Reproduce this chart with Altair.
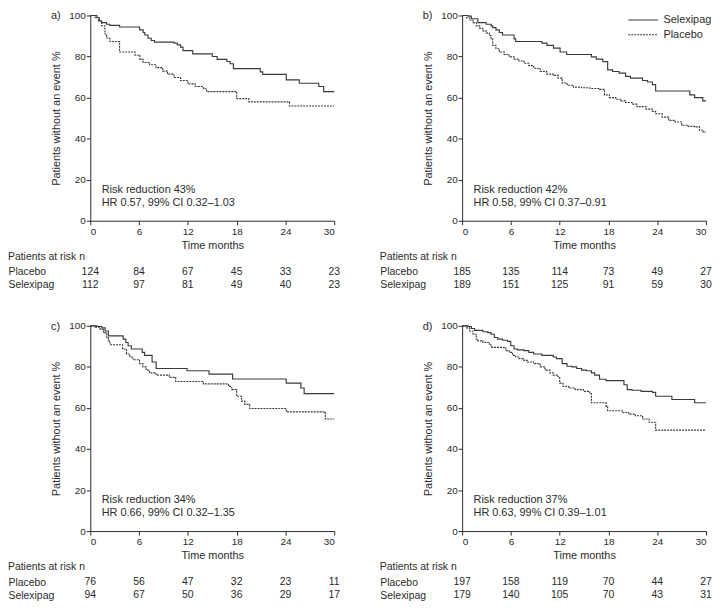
import altair as alt
import pandas as pd

FONT = "Liberation Sans"
INK = "#2b2b2b"
LINE = "#3a3a3a"

month_ticks = [0, 6, 12, 18, 24, 30]
pct_ticks = [0, 20, 40, 60, 80, 100]
groups = ["Selexipag", "Placebo"]
rows = ["Placebo", "Selexipag"]

# ---- panel a ----
a_sel_t = [0, 0.8, 1.1, 1.4, 2.0, 2.4, 3.6, 6.06, 6.5, 6.7, 7.1, 7.5, 7.9, 10.3, 10.7, 11.1, 11.4, 12.6, 15.0, 15.6, 16.8, 17.2, 17.6, 20.9, 21.2, 24.1, 25.7, 28.1, 28.7, 30]
a_sel_s = [100, 98.9, 97.3, 96.5, 95.7, 95.2, 94.4, 93.0, 91.7, 90.5, 88.9, 87.8, 87.0, 86.5, 85.7, 84.6, 82.9, 81.3, 80.0, 78.6, 77.6, 76.5, 74.1, 72.5, 71.3, 68.6, 67.0, 65.4, 62.9, 62.9]
a_pla_t = [0, 0.6, 1.0, 1.4, 1.8, 2.0, 2.4, 3.6, 5.5, 6.1, 6.5, 7.3, 8.1, 8.9, 9.5, 10.3, 11.1, 12.0, 12.9, 13.9, 14.3, 18.0, 19.5, 24.5, 30]
a_pla_s = [100, 99.0, 97.3, 95.0, 91.0, 89.0, 87.3, 82.2, 80.6, 78.6, 77.1, 76.0, 74.6, 72.9, 71.4, 69.8, 68.3, 66.7, 65.4, 64.3, 62.9, 59.5, 57.9, 55.9, 55.9]
a_risk_pla = [124, 84, 67, 45, 33, 23]
a_risk_sel = [112, 97, 81, 49, 40, 23]
a_notes = ["Risk reduction 43%", "HR 0.57, 99% CI 0.32\u20131.03"]

# ---- panel b ----
b_sel_t = [0, 0.73, 1.13, 1.94, 2.95, 3.56, 3.76, 4.16, 4.57, 4.97, 6.39, 6.59, 9.82, 10.43, 11.24, 12.05, 12.86, 15.9, 16.5, 17.3, 17.9, 18.5, 19.3, 20.1, 20.7, 22.2, 22.8, 23.4, 23.8, 28.0, 28.6, 29.6, 30]
b_sel_s = [100, 99.7, 98.4, 96.5, 95.7, 94.9, 94.1, 93.0, 91.7, 90.5, 88.6, 87.3, 86.5, 85.4, 84.1, 82.2, 81.0, 79.8, 78.7, 77.5, 73.5, 72.7, 71.9, 70.3, 69.5, 68.3, 67.6, 66.3, 63.2, 61.3, 60.0, 58.4, 58.4]
b_pla_t = [0, 0.53, 0.93, 1.33, 1.74, 2.14, 2.55, 2.95, 3.36, 3.56, 3.76, 4.16, 4.57, 5.17, 5.78, 6.39, 7.0, 7.6, 8.2, 8.8, 9.6, 10.4, 11.2, 11.8, 12.3, 12.9, 13.7, 14.7, 15.7, 16.9, 17.5, 18.1, 18.9, 19.5, 20.1, 20.9, 21.5, 22.6, 23.4, 23.8, 24.6, 25.4, 26.2, 27.0, 27.8, 28.6, 29.2, 29.6, 30]
b_pla_s = [100, 98.9, 97.8, 96.5, 94.9, 93.7, 92.5, 91.4, 90.2, 88.6, 85.4, 83.8, 82.2, 81.0, 79.8, 78.7, 77.8, 76.7, 75.6, 74.3, 72.7, 71.4, 70.8, 69.5, 67.1, 66.0, 65.1, 64.8, 64.4, 64.0, 61.3, 60.0, 59.2, 58.4, 57.6, 56.8, 55.6, 54.4, 53.3, 52.1, 50.5, 48.9, 48.1, 46.5, 46.0, 45.7, 44.1, 43.3, 43.3]
b_risk_pla = [185, 135, 114, 73, 49, 27]
b_risk_sel = [189, 151, 125, 91, 59, 30]
b_notes = ["Risk reduction 42%", "HR 0.58, 99% CI 0.37\u20130.91"]

# ---- panel c ----
c_sel_t = [0, 0.81, 1.41, 1.82, 2.22, 4.04, 4.37, 4.65, 5.05, 6.39, 6.67, 7.6, 8.1, 11.9, 14.6, 17.5, 24.1, 25.9, 26.3, 30]
c_sel_s = [100, 99.7, 99.0, 97.5, 95.1, 93.5, 91.9, 90.3, 88.7, 87.1, 85.6, 82.4, 79.2, 78.1, 76.5, 74.1, 72.1, 69.7, 67.0, 67.0]
c_pla_t = [0, 0.61, 1.21, 1.62, 2.02, 2.22, 2.43, 3.96, 4.45, 4.85, 5.26, 6.06, 6.47, 6.87, 7.28, 8.09, 9.7, 10.5, 13.9, 17.0, 17.4, 18.0, 18.6, 19.0, 19.6, 24.1, 28.9, 30]
c_pla_s = [100, 99.4, 98.3, 96.7, 94.3, 92.7, 90.8, 88.7, 86.3, 84.8, 83.5, 81.6, 80.0, 78.4, 77.1, 76.0, 74.9, 72.9, 71.7, 70.5, 68.9, 65.7, 63.3, 61.7, 59.7, 58.1, 54.6, 54.6]
c_risk_pla = [76, 56, 47, 32, 23, 11]
c_risk_sel = [94, 67, 50, 36, 29, 17]
c_notes = ["Risk reduction 34%", "HR 0.66, 99% CI 0.32\u20131.35"]

# ---- panel d ----
d_sel_t = [0, 0.73, 1.13, 1.54, 2.55, 3.15, 3.56, 3.96, 4.37, 4.97, 5.58, 5.98, 6.39, 6.79, 7.6, 8.2, 8.8, 9.8, 11.2, 11.6, 12.3, 12.9, 13.5, 14.1, 14.7, 15.3, 15.9, 16.3, 16.9, 17.7, 19.9, 20.3, 20.9, 22.0, 23.4, 23.8, 25.8, 28.6, 30]
d_sel_s = [100, 99.7, 98.7, 97.8, 97.1, 96.7, 95.9, 94.3, 93.5, 93.0, 92.4, 90.3, 88.7, 88.3, 87.9, 87.1, 86.3, 85.6, 84.8, 84.0, 81.6, 80.3, 80.0, 79.2, 78.4, 78.1, 77.1, 76.0, 74.0, 73.3, 71.3, 68.9, 68.6, 68.1, 67.6, 65.7, 64.1, 62.5, 62.5]
d_pla_t = [0, 0.53, 0.93, 1.33, 1.74, 1.94, 2.55, 3.36, 3.56, 5.17, 5.38, 5.78, 6.19, 6.59, 7.0, 7.6, 8.0, 8.8, 9.6, 10.2, 10.8, 11.2, 11.8, 12.0, 12.4, 13.1, 13.9, 14.9, 15.7, 15.9, 17.7, 17.9, 19.7, 20.5, 21.3, 22.2, 23.0, 23.8, 30]
d_pla_s = [100, 99.0, 97.5, 95.9, 93.5, 92.7, 91.9, 91.1, 89.5, 89.2, 87.9, 87.1, 85.6, 84.8, 84.0, 83.2, 82.4, 81.6, 80.0, 78.4, 77.1, 76.0, 75.2, 72.1, 70.5, 69.7, 68.9, 68.1, 67.0, 62.5, 60.9, 58.6, 57.8, 57.0, 56.2, 54.6, 53.0, 49.2, 49.2]
d_risk_pla = [197, 158, 119, 70, 44, 27]
d_risk_sel = [179, 140, 105, 70, 43, 31]
d_notes = ["Risk reduction 37%", "HR 0.63, 99% CI 0.39\u20131.01"]

note_x = [1.4, 1.4]
note_y = [15.2, 8.6]

W = 246
H = 207


def km_chart(label, sel_t, sel_s, pla_t, pla_s, notes, show_legend):
    df = pd.DataFrame({
        "t": sel_t + pla_t,
        "s": sel_s + pla_s,
        "g": [groups[0]] * len(sel_t) + [groups[1]] * len(pla_t),
    })
    if show_legend:
        # custom stroke path twice as long as the symbol box, so the
        # entries stay compact while the key lines stay long
        legend = alt.Legend(
            title=None, orient="none", legendX=174, legendY=-4, padding=0,
            symbolType="M-2,0H2", symbolSize=225, symbolStrokeWidth=1.1,
            symbolStrokeColor=LINE, symbolFillColor="transparent",
            labelFont=FONT, labelFontSize=11,
            labelColor=INK, labelOffset=12, rowPadding=1,
        )
    else:
        legend = None
    xs = alt.Scale(domain=[0, 30], nice=False, zero=True)
    lines = alt.Chart(df).mark_line(
        interpolate="step-after", strokeWidth=1.15, color=LINE
    ).encode(
        x=alt.X("t:Q", scale=xs,
                axis=alt.Axis(values=month_ticks, title="Time months",
                              labelPadding=2, titlePadding=3)),
        y=alt.Y("s:Q", scale=alt.Scale(domain=[0, 100], nice=False),
                axis=alt.Axis(values=pct_ticks, title="Patients without an event %",
                              labelPadding=1, titlePadding=7)),
        strokeDash=alt.StrokeDash(
            "g:N",
            scale=alt.Scale(domain=groups, range=[[1, 0], [2, 1]]),
            legend=legend,
        ),
    )
    ndf = pd.DataFrame({"x": note_x, "y": note_y, "text": notes})
    text = alt.Chart(ndf).mark_text(
        align="left", baseline="middle", font=FONT, fontSize=11, color=INK
    ).encode(x=alt.X("x:Q", scale=xs), y=alt.Y("y:Q"), text="text:N")
    return alt.layer(lines, text).properties(
        width=W, height=H,
        title=alt.TitleParams(label, anchor="start", frame="bounds",
                              baseline="top", offset=-11, font=FONT,
                              fontSize=11, fontWeight="normal", color=INK),
    )


def risk_table(pla, sel):
    df = pd.DataFrame({
        "t": month_ticks + month_ticks,
        "row": [rows[0]] * 6 + [rows[1]] * 6,
        "n": pla + sel,
    })
    return alt.Chart(df).mark_text(
        font=FONT, fontSize=10.5, color=INK, baseline="middle"
    ).encode(
        x=alt.X("t:Q", scale=alt.Scale(domain=[0, 30], nice=False), axis=None),
        y=alt.Y("row:N", scale=alt.Scale(domain=rows),
                axis=alt.Axis(title=None, domain=False, ticks=False, tickSize=0,
                              labelAlign="left", labelPadding=83,
                              labelFontSize=10.5, labelBaseline="middle")),
        text="n:Q",
    ).properties(
        width=W, height=26,
        title=alt.TitleParams("Patients at risk n", anchor="start", frame="bounds",
                              offset=3, font=FONT, fontSize=10.5,
                              fontWeight="normal", color=INK),
    )


def panel(label, sel_t, sel_s, pla_t, pla_s, notes, rp, rs, show_legend=False):
    return alt.vconcat(
        km_chart(label, sel_t, sel_s, pla_t, pla_s, notes, show_legend),
        risk_table(rp, rs),
        spacing=1,
    ).resolve_scale(strokeDash="independent").resolve_legend(strokeDash="independent")


pa = panel("a)", a_sel_t, a_sel_s, a_pla_t, a_pla_s, a_notes, a_risk_pla, a_risk_sel)
pb = panel("b)", b_sel_t, b_sel_s, b_pla_t, b_pla_s, b_notes, b_risk_pla, b_risk_sel, True)
pc = panel("c)", c_sel_t, c_sel_s, c_pla_t, c_pla_s, c_notes, c_risk_pla, c_risk_sel)
pd_ = panel("d)", d_sel_t, d_sel_s, d_pla_t, d_pla_s, d_notes, d_risk_pla, d_risk_sel)

top = alt.hconcat(pa, pb, spacing=40).resolve_scale(strokeDash="independent").resolve_legend(strokeDash="independent")
bottom = alt.hconcat(pc, pd_, spacing=40).resolve_scale(strokeDash="independent").resolve_legend(strokeDash="independent")

chart = alt.vconcat(top, bottom, spacing=30).resolve_scale(
    strokeDash="independent"
).resolve_legend(strokeDash="independent").properties(
    padding=0, background="white"
).configure_view(stroke=None).configure_axis(
    labelFont=FONT, titleFont=FONT, labelFontSize=10, titleFontSize=11,
    titleFontWeight="normal", labelColor=INK, titleColor=INK,
    domainColor=INK, tickColor=INK, grid=False, tickSize=4,
    domainWidth=1, tickWidth=1,
).configure_title(font=FONT)

chart.save("out.html", embed_options={"renderer": "svg", "actions": False})
